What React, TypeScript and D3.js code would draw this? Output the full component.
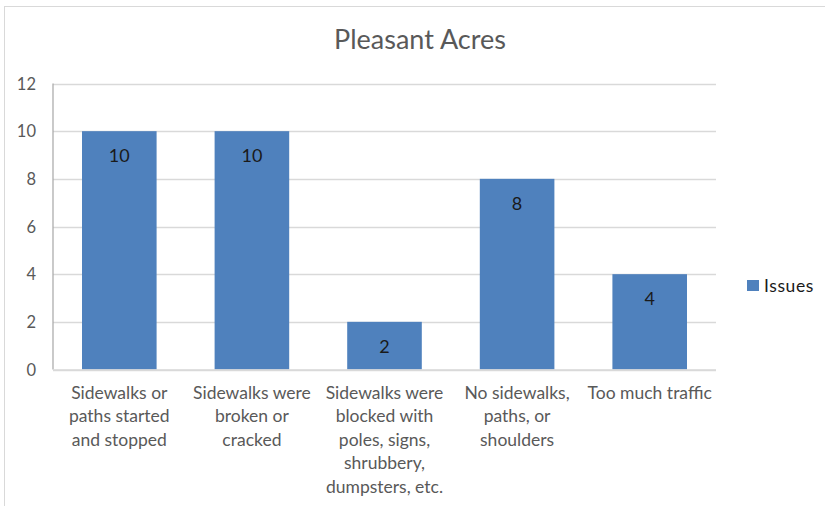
import React from "react";
import * as d3 from "d3";

const categories: string[][] = [
  ["Sidewalks or", "paths started", "and stopped"],
  ["Sidewalks were", "broken or", "cracked"],
  ["Sidewalks were", "blocked with", "poles, signs,", "shrubbery,", "dumpsters, etc."],
  ["No sidewalks,", "paths, or", "shoulders"],
  ["Too much traffic"],
];
const values: number[] = [10, 10, 2, 8, 4];
const yTicks: number[] = [0, 2, 4, 6, 8, 10, 12];
const seriesName = "Issues";
const title = "Pleasant Acres";

const W = 825;
const H = 506;
const FONT = "Lato, 'Open Sans', sans-serif";

export default function App() {
  const left = 53;
  const right = 716;
  const top = 83.5;
  const bottom = 369.5;
  const x = d3
    .scaleBand<number>()
    .domain(values.map((_, i) => i))
    .range([left, right])
    .paddingInner(0.4375)
    .paddingOuter(0.21875);
  const y = d3.scaleLinear().domain([0, 12]).range([bottom, top]);

  return (
    <svg
      width={W}
      height={H}
      style={{ position: "absolute", left: 0, top: 0, background: "#fff" }}
      fontFamily={FONT}
    >
      <rect x={4.5} y={6.5} width={W + 10} height={H + 10} fill="#fff" stroke="#d9d9d9" strokeWidth={1} />
      <text x={420} y={49} textAnchor="middle" fontSize={27} fill="#595959">
        {title}
      </text>
      {yTicks.map((t) => (
        <g key={t}>
          <line x1={left} x2={right} y1={Math.round(y(t)) + 0.5} y2={Math.round(y(t)) + 0.5} stroke="#d9d9d9" strokeWidth={1.5} />
          <text x={36} y={y(t) + 6} textAnchor="end" fontSize={16.5} fill="#595959">
            {t}
          </text>
        </g>
      ))}
      {values.map((v, i) => (
        <g key={i}>
          <rect x={x(i)} y={y(v)} width={x.bandwidth()} height={bottom - y(v)} fill="#4f81bd" />
          <text x={(x(i) as number) + x.bandwidth() / 2} y={y(v) + 31} textAnchor="middle" fontSize={18} fill="#1a1a1a">
            {v}
          </text>
        </g>
      ))}
      <line x1={left} x2={left} y1={top} y2={bottom} stroke="#a6a6a6" strokeWidth={1.2} />
      <line x1={left} x2={right} y1={bottom + 0.5} y2={bottom + 0.5} stroke="#d9d9d9" strokeWidth={1.5} />
      {categories.map((lines, i) => (
        <text key={i} textAnchor="middle" fontSize={17.5} fill="#595959">
          {lines.map((ln, j) => (
            <tspan key={j} x={(x(i) as number) + x.bandwidth() / 2} y={399 + j * 23.4}>
              {ln}
            </tspan>
          ))}
        </text>
      ))}
      <rect x={747} y={280} width={12} height={11} fill="#4f81bd" />
      <text x={764} y={292} fontSize={17.5} letterSpacing={0.6} fill="#1a1a1a">
        {seriesName}
      </text>
    </svg>
  );
}
